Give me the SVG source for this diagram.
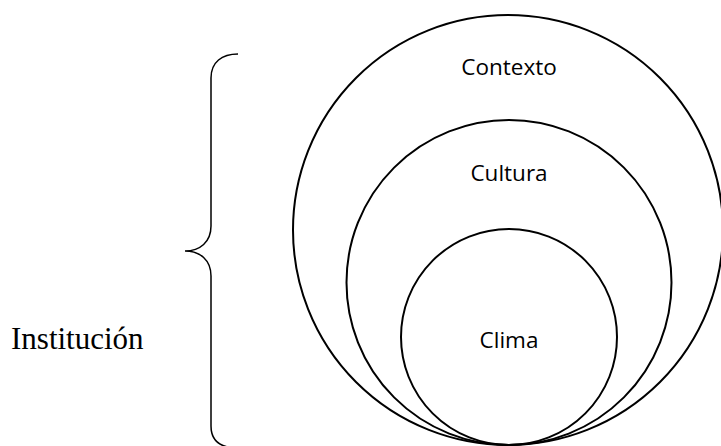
<svg xmlns="http://www.w3.org/2000/svg" width="721" height="446" viewBox="0 0 721 446">
<style>
.ring{fill:none;stroke:#000;stroke-width:2}
.lbl{font-family:"Open Sans","Noto Sans",sans-serif;font-size:22.5px;fill:#000;text-anchor:middle}
.brace{fill:none;stroke:#000;stroke-width:1.5}
.side{font-family:"Liberation Serif","Times New Roman",serif;font-size:31px;fill:#000}
</style>
<rect width="721" height="446" fill="#fff"/>
<g id="contexto">
<circle class="ring" cx="508" cy="230" r="215"/>
<text class="lbl" x="509" y="75">Contexto</text>
</g>
<g id="cultura">
<circle class="ring" cx="509" cy="282.5" r="162.5"/>
<text class="lbl" x="509" y="181">Cultura</text>
</g>
<g id="clima">
<circle class="ring" cx="509" cy="337" r="108"/>
<text class="lbl" x="509" y="348">Clima</text>
</g>
<g id="institucion">
<path class="brace" d="M238,54 C222,54 211,62 211,78 L211,226 C211,242 200,251 185,251 C200,251 211,260 211,276 L211,426 C211,442 222,448 238,448"/>
<text class="side" x="11" y="349">Institución</text>
</g>
</svg>
